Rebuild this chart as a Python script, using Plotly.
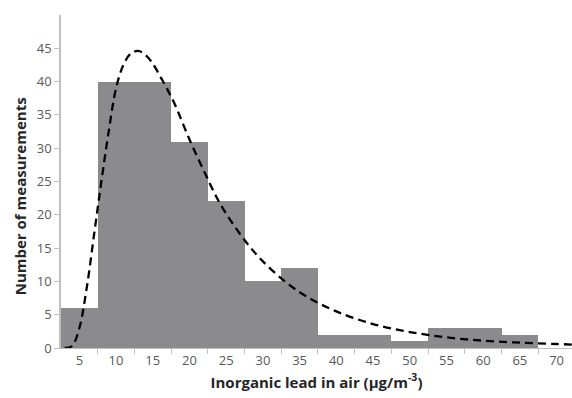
import plotly.graph_objects as go

# Histogram bins (category centres) and counts
bin_centers = [5, 10, 15, 20, 25, 30, 35, 40, 45, 50, 55, 60, 65, 70]
counts = [6, 40, 40, 31, 22, 10, 12, 2, 2, 1, 3, 3, 2, 0]
x_tick_labels = [str(v) for v in bin_centers]
bin_edges = [7.5, 12.5, 17.5, 22.5, 27.5, 32.5, 37.5, 42.5, 47.5, 52.5, 57.5, 62.5, 67.5]

# Fitted distribution curve
curve_x = [3.0, 4.0, 5.0, 6.0, 7.0, 8.0, 9.0, 10.0, 11.0, 12.0, 13.0, 14.0, 15.0,
           16.0, 17.0, 18.0, 20.0, 22.0, 24.0, 26.0, 28.0, 30.0, 33.0, 36.0, 40.0,
           45.0, 50.0, 55.0, 60.0, 65.0, 70.0, 72.5]
curve_y = [0.0, 0.3, 3.0, 9.0, 17.0, 25.0, 32.5, 39.0, 42.5, 44.2, 44.6, 44.0, 42.7,
           40.8, 38.8, 36.6, 31.3, 26.5, 22.0, 18.5, 15.5, 13.0, 10.0, 7.7, 5.5,
           3.6, 2.4, 1.6, 1.1, 0.8, 0.6, 0.5]

y_ticks = [0, 5, 10, 15, 20, 25, 30, 35, 40, 45]

fig = go.Figure()
fig.add_trace(go.Bar(
    x=bin_centers, y=counts, width=5,
    marker=dict(color="#8b8b8e", line=dict(width=0)),
    showlegend=False, hoverinfo="skip",
))
fig.add_trace(go.Scatter(
    x=curve_x, y=curve_y, mode="lines",
    line=dict(color="black", width=2.3, dash="8px,5px", shape="spline"),
    showlegend=False, hoverinfo="skip",
))

font_fam = "Open Sans, Lato, sans-serif"
fig.update_layout(
    width=572, height=398,
    margin=dict(l=61, r=0, t=15, b=50, autoexpand=False),
    paper_bgcolor="white", plot_bgcolor="white",
    bargap=0,
    font=dict(family=font_fam, size=12, color="#595959"),
    xaxis=dict(
        range=[2.5, 72.1], automargin=False,
        tickvals=bin_centers, ticktext=x_tick_labels, ticks="",
        showgrid=False, zeroline=False,
        showline=True, linecolor="#bfbfbf", linewidth=1,
        tickfont=dict(size=13, color="#595959"),
        minor=dict(tickvals=bin_edges, ticks="outside", ticklen=5,
                   tickcolor="#bfbfbf", showgrid=False),
        title=dict(text="<b>Inorganic lead in air (µg/m<sup>-3</sup>)</b>",
                   font=dict(size=15, color="#262626"), standoff=9),
    ),
    yaxis=dict(
        range=[0, 50], automargin=False,
        tickvals=y_ticks, ticks="outside", ticklen=5, tickcolor="#bfbfbf",
        showgrid=False, zeroline=False,
        showline=True, linecolor="#bfbfbf", linewidth=1.5,
        tickfont=dict(size=13, color="#595959"),
    ),
    annotations=[dict(
        text="<b>Number of measurements</b>", textangle=-90,
        xref="paper", yref="paper", x=-0.08, y=0.456,
        xanchor="center", yanchor="middle", showarrow=False,
        font=dict(size=15, color="#262626"),
    )],
)

fig.write_html("out.html", config={"displayModeBar": False},
               post_script="document.body.style.margin='0';")
